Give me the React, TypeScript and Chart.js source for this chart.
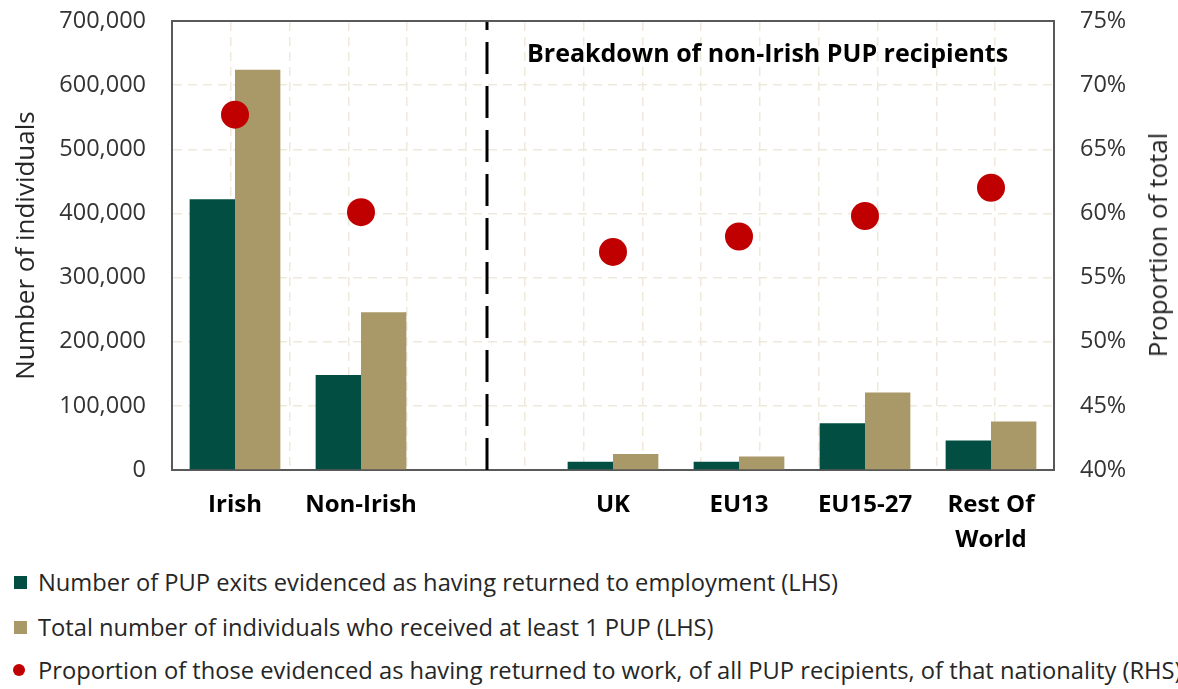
import React, { useEffect, useRef } from 'react';
import { Chart, registerables } from 'chart.js';

Chart.register(...registerables);

// ---- Data ----
const categories: (string | string[])[] = ['Irish', 'Non-Irish', '', 'UK', 'EU13', 'EU15-27', ['Rest Of', 'World']];
const returnedToEmployment = [422000, 148000, null, 13000, 13000, 73000, 46000];
const totalRecipients = [624000, 246000, null, 25000, 21000, 121000, 75500];
const proportionReturned = [67.7, 60.1, null, 57.0, 58.2, 59.8, 62.0];
const leftTicks = [0, 100000, 200000, 300000, 400000, 500000, 600000, 700000];
const rightTicks = [40, 45, 50, 55, 60, 65, 70, 75];
const dividerIndex = 2;

const legendLabels = [
  'Number of PUP exits evidenced as having returned to employment (LHS)',
  'Total number of individuals who received at least 1 PUP (LHS)',
  'Proportion of those evidenced as having returned to work, of all PUP recipients, of that nationality (RHS)',
];

const GREEN = '#024E42';
const TAN = '#A99868';
const RED = '#C00000';
const FONT = "'Open Sans', 'Noto Sans', sans-serif";
const GRID = '#EFE9DC';
const FRAME = '#595959';

export default function App() {
  const ref = useRef<HTMLCanvasElement>(null);

  useEffect(() => {
    if (!ref.current) return;
    const divider = {
      id: 'divider',
      afterDatasetsDraw(chart: any) {
        const ctx = chart.ctx;
        const x = chart.scales.x.getPixelForValue(dividerIndex);
        const { top, bottom } = chart.chartArea;
        ctx.save();
        ctx.setLineDash([32, 12]);
        ctx.lineWidth = 3;
        ctx.strokeStyle = '#000';
        ctx.beginPath();
        ctx.moveTo(x, bottom);
        ctx.lineTo(x, top + 1);
        ctx.stroke();
        ctx.restore();
      },
    };

    const noVPad = (s: any) => { s.paddingTop = 0; s.paddingBottom = 0; };

    const chart = new Chart(ref.current, {
      type: 'bar',
      data: {
        labels: categories as any,
        datasets: [
          {
            type: 'line' as any,
            label: legendLabels[2],
            data: proportionReturned as any,
            yAxisID: 'y1',
            showLine: false,
            pointRadius: 14,
            pointHoverRadius: 14,
            pointBackgroundColor: RED,
            pointBorderWidth: 0,
            borderColor: RED,
            order: 0,
          } as any,
          {
            label: legendLabels[0],
            data: returnedToEmployment as any,
            backgroundColor: GREEN,
            yAxisID: 'y',
            categoryPercentage: 0.72,
            barPercentage: 1,
            order: 1,
          },
          {
            label: legendLabels[1],
            data: totalRecipients as any,
            backgroundColor: TAN,
            yAxisID: 'y',
            categoryPercentage: 0.72,
            barPercentage: 1,
            order: 1,
          },
        ],
      },
      options: {
        responsive: false,
        animation: false,
        devicePixelRatio: 1,
        layout: { padding: { top: 21, left: 0, right: 0, bottom: 0 } },
        plugins: {
          legend: { display: false },
          tooltip: { enabled: false },
        },
        scales: {
          x: {
            type: 'category',
            position: 'bottom',
            offset: true,
            grid: { display: false, drawTicks: false },
            border: { display: true, color: FRAME, width: 2 },
            ticks: {
              color: '#000',
              padding: 18,
              maxRotation: 0,
              autoSkip: false,
              font: { family: FONT, size: 24, weight: 'bold', lineHeight: 1.45 },
            },
            afterFit: (s: any) => { s.height = 90; },
          },
          x2: {
            type: 'linear',
            position: 'top',
            min: 0,
            max: 14,
            ticks: { display: false, stepSize: 1 },
            grid: { color: GRID, lineWidth: 1.5, drawTicks: false },
            border: { display: true, color: FRAME, width: 2, dash: [9, 6] },
            afterFit: (s: any) => { s.height = 0; },
          },
          y: {
            type: 'linear',
            position: 'left',
            min: 0,
            max: 700000,
            afterBuildTicks: (s: any) => { s.ticks = leftTicks.map((v) => ({ value: v })); },
            ticks: {
              color: '#333',
              padding: 26,
              font: { family: FONT, size: 23.5 },
              callback: (v: any) => Number(v).toLocaleString('en-US'),
            },
            grid: { color: GRID, lineWidth: 1.5, drawTicks: false },
            border: { display: true, color: FRAME, width: 2, dash: [9, 6] },
            title: {
              display: true,
              text: 'Number of individuals',
              color: '#262626',
              font: { family: FONT, size: 26 },
              padding: { top: 11, bottom: 0 },
            },
            afterFit: (s: any) => { s.width = 172; noVPad(s); },
          },
          y1: {
            type: 'linear',
            position: 'right',
            min: 40,
            max: 75,
            afterBuildTicks: (s: any) => { s.ticks = rightTicks.map((v) => ({ value: v })); },
            ticks: {
              color: '#333',
              padding: 26,
              font: { family: FONT, size: 23.5 },
              callback: (v: any) => `${v}%`,
            },
            grid: { drawOnChartArea: false, drawTicks: false },
            border: { display: true, color: FRAME, width: 2 },
            title: { display: false },
            afterFit: (s: any) => { s.width = 124; noVPad(s); },
          },
        },
      } as any,
      plugins: [divider],
    });
    return () => chart.destroy();
  }, []);

  const legendTops = [582, 627, 670];
  return (
    <div style={{ position: 'fixed', left: 0, top: 0, width: 1178, height: 689, overflow: 'hidden', background: '#fff', fontFamily: FONT }}>
      <canvas ref={ref} width={1178} height={560} style={{ display: 'block', width: 1178, height: 560 }} />
      <div style={{ position: 'absolute', left: 527, top: 36, lineHeight: '32px', fontSize: 25, fontWeight: 'bold', color: '#000', whiteSpace: 'nowrap' }}>
        Breakdown of non-Irish PUP recipients
      </div>
      <div style={{ position: 'absolute', left: 1157, top: 245, width: 0, height: 0 }}>
        <div style={{
          position: 'absolute', left: 0, top: 0, transform: 'translate(-50%, -50%) rotate(-90deg)',
          fontSize: 26, lineHeight: '32px', color: '#262626', whiteSpace: 'nowrap',
        }}>Proportion of total</div>
      </div>
      {legendLabels.map((label, i) => (
        <div key={i} style={{ position: 'absolute', left: 0, top: legendTops[i] - 15, height: 30, width: 1178, whiteSpace: 'nowrap' }}>
          <span style={{
            position: 'absolute', left: i === 2 ? 13 : 14, top: i === 2 ? 9 : 8.5,
            width: i === 2 ? 12 : 13, height: i === 2 ? 12 : 13,
            borderRadius: i === 2 ? '50%' : 0,
            background: i === 0 ? GREEN : i === 1 ? TAN : RED,
          }} />
          <span style={{ position: 'absolute', left: 38, top: 0, lineHeight: '30px', fontSize: 23.7, color: '#262626' }}>{label}</span>
        </div>
      ))}
    </div>
  );
}
